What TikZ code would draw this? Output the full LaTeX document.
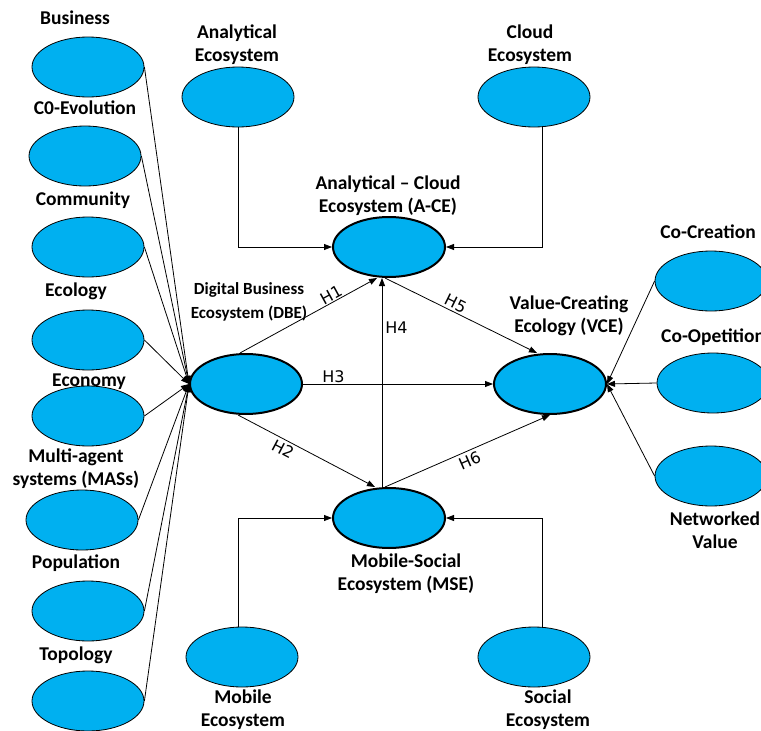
\documentclass[tikz,border=0pt]{standalone}
\usepackage{fontspec}
\setmainfont{Carlito}
\newfontfamily\hfont{DejaVu Sans}
\usetikzlibrary{shapes.geometric,arrows.meta}
\definecolor{ecoblue}{RGB}{0,176,240}

\tikzset{
  factor/.style={ellipse, draw, line width=0.8pt, fill=ecoblue, minimum width=112pt, minimum height=60pt, inner sep=0pt},
  construct/.style={factor, line width=2pt},
  lbl/.style={font=\bfseries\fontsize{19.5}{23}\selectfont, align=center, inner sep=0pt},
  link/.style={line width=0.8pt, -{Triangle[length=8pt,width=6pt]}},
  hyp/.style={font=\hfont\fontsize{16}{18}\selectfont, inner sep=1pt}
}

\begin{document}
\begin{tikzpicture}[x=1pt, y=-1pt]
    \useasboundingbox (0,0) rectangle (761,731);

    % dimensions of the digital business ecosystem
    \foreach \n/\x/\y in {b1/88/67, b2/85/156, b3/88/247, b4/88/340, b5/88/416, b6/82/520, b7/88/611, b8/88/701}
        \node[factor] (\n) at (\x,\y) {};
    \foreach \x/\y/\t [count=\i] in {75/18/Business, 85/108/C0-Evolution, 83/200/Community, 76/291/Ecology,
        89/382/Economy, 76/469/{Multi-agent\\systems (MASs)}, 76/563/Population, 76/655/Topology}
        \node[lbl] (bl\i) at (\x,\y) {\t};

    % outer ecosystems
    \node[factor] (ane) at (238,97) {};
    \node[factor] (cle) at (534,97) {};
    \node[factor] (mbe) at (242,657) {};
    \node[factor] (soe) at (534,657) {};
    \node[lbl] (anel) at (237,45) {Analytical\\Ecosystem};
    \node[lbl] (clel) at (530,45) {Cloud\\Ecosystem};
    \node[lbl] (mbel) at (243,710) {Mobile\\Ecosystem};
    \node[lbl] (soel) at (548,710) {Social\\Ecosystem};

    % value dimensions
    \node[factor] (cc) at (711,281) {};
    \node[factor] (co) at (713,383) {};
    \node[factor] (nv) at (711,476) {};
    \node[lbl] (ccl) at (708,232) {Co-Creation};
    \node[lbl, anchor=west] (col) at (661,337) {Co-Opetition};
    \node[lbl] (nvl) at (715,530) {Networked\\Value};

    % main constructs
    \node[construct] (dbe) at (246,384) {};
    \node[construct] (ace) at (389,247) {};
    \node[construct] (vce) at (550,384) {};
    \node[construct] (mse) at (389,518) {};
    \node[lbl, font=\bfseries\fontsize{17}{24}\selectfont] (dbel) at (249,302) {Digital Business\\Ecosystem (DBE)};
    \node[lbl] (acel) at (388,196) {Analytical -- Cloud\\Ecosystem (A-CE)};
    \node[lbl] (vcel) at (569,316) {Value-Creating\\Ecology (VCE)};
    \node[lbl] (msel) at (406,574) {Mobile-Social\\Ecosystem (MSE)};

    % connectors
    \foreach \n in {b1,b2,b3,b4,b5,b6,b7,b8}
        \draw[link] (\n.east) -- (dbe.west);
    \foreach \n in {cc,co,nv}
        \draw[link] (\n.west) -- (vce.east);
    \draw[link] (ane.south) |- (ace.west);
    \draw[link] ([xshift=8]cle.south) |- (ace.east);
    \draw[link] ([xshift=-4]mbe.north) |- (mse.west);
    \draw[link] ([xshift=8]soe.north) |- (mse.east);

    % hypotheses
    \draw[link] ([xshift=-6]dbe.north) -- node[hyp, sloped, above, pos=0.69] (h1) {H1} ([xshift=-12]ace.south);
    \draw[link] ([xshift=-8]dbe.south) -- node[hyp, sloped, below, pos=0.36, inner sep=3pt] (h2) {H2} ([xshift=-14]mse.north);
    \draw[link] (dbe.east) -- node[hyp, above, pos=0.16] (h3) {H3} (vce.west);
    \draw[link] ([xshift=-7]mse.north) -- node[hyp, right, pos=0.76, inner sep=3pt] (h4) {H4} ([xshift=-7]ace.south);
    \draw[link] ([xshift=-4]ace.south) -- node[hyp, sloped, above, pos=0.44, inner sep=2pt] (h5) {H5} ([xshift=-13]vce.north);
    \draw[link] ([xshift=-4]mse.north) -- node[hyp, sloped, below, pos=0.49, inner sep=3pt] (h6) {H6} (vce.south);
\end{tikzpicture}
\end{document}
